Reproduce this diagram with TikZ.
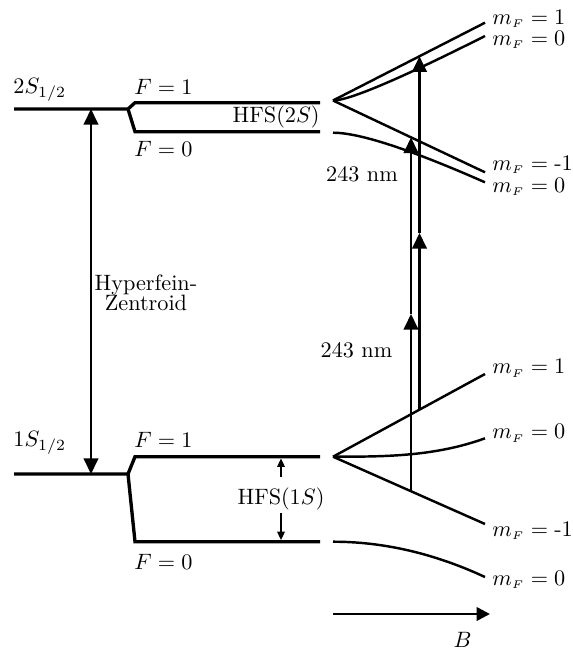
\documentclass[tikz,border=0pt]{standalone}
\usetikzlibrary{arrows.meta}

\tikzset{
  level/.style={line width=1.5pt},
  zeeman/.style={line width=1.1pt},
  photon/.style={line width=1.1pt, -{Triangle[length=7pt,width=6.5pt]}},
  centroid/.style={line width=1.1pt, {Triangle[length=7pt,width=6.5pt]}-{Triangle[length=7pt,width=6.5pt]}},
  hfsarrow/.style={line width=0.5pt, -{Triangle[length=3.8pt,width=3.5pt]}},
  fieldarrow/.style={line width=1.2pt, -{Triangle[length=6pt,width=6pt]}},
  tag/.style={anchor=west, inner sep=0pt},
}
\newcommand{\mFlabel}[1]{$m_{\scriptscriptstyle F} = #1$}

\begin{document}
\begin{tikzpicture}[x=0.45pt, y=-0.45pt]
\useasboundingbox (0,0) rectangle (572,653);

\coordinate (s2) at (128,109);
\coordinate (s1) at (128,474);
\draw[level] (14,109) -- (s2) -- (135,102.7) -- (320,102.7);
\draw[level] (s2) -- (135,131.7) -- (320,131.7);
\draw[level] (14,474) -- (s1) -- (135,456.7) -- (320,456.7);
\draw[level] (s1) -- (135,541.7) -- (320,541.7);

\node[tag] (lab2S) at (13,90) {$2S_{1/2}$};
\node[tag] (lab1S) at (13,443) {$1S_{1/2}$};
\node[tag] (f2S1) at (134,87) {$F = 1$};
\node[tag] (f2S0) at (134,149) {$F = 0$};
\node[tag] (f1S1) at (134,440) {$F = 1$};
\node[tag] (f1S0) at (134,561.5) {$F = 0$};
\node[anchor=east, inner sep=0pt] (hfs2S) at (320,117) {HFS$(2S)$};

\coordinate (c2) at (91,109);
\coordinate (c1) at (91,474);
\draw[centroid] (c1) -- (c2);
\node[anchor=west, align=center, inner sep=1pt] (zentroid) at (92,293) {Hyperfein-\\[-3pt]Zentroid};

\node (hfs1S) at (281,499) {HFS$(1S)$};
\coordinate (ha) at (281,477);
\coordinate (hb) at (281,458.5);
\coordinate (hc) at (281,513);
\coordinate (hd) at (281,540);
\draw[hfsarrow] (ha) -- (hb);
\draw[hfsarrow] (hc) -- (hd);

\coordinate (v2) at (333,100.5);
\coordinate (u2) at (333,132.7);
\coordinate (p2) at (485,22.7);
\coordinate (z2) at (485,36);
\coordinate (n2) at (485,172.3);
\coordinate (w2) at (485,182.3);
\draw[zeeman] (v2) -- (p2);
\draw[zeeman] (v2) .. controls +(16,0) and +(-85.3,43) .. (z2);
\draw[zeeman] (v2) -- (n2);
\draw[zeeman] (u2) .. controls +(26.2,0) and +(-75.1,-33.1) .. (w2);

\coordinate (v1) at (333,456.7);
\coordinate (u1) at (333,541.7);
\coordinate (p1) at (485,374);
\coordinate (z1) at (485,438.3);
\coordinate (n1) at (485,524);
\coordinate (w1) at (485,577);
\draw[zeeman] (v1) -- (p1);
\draw[zeeman] (v1) .. controls +(50.7,0) and +(-50.7,18.4) .. (z1);
\draw[zeeman] (v1) -- (n1);
\draw[zeeman] (u1) .. controls +(50.7,0) and +(-50.7,-23.5) .. (w1);

\node[tag] (m2p) at (492,19) {\mFlabel{1}};
\node[tag] (m2z) at (492,40) {\mFlabel{0}};
\node[tag] (m2n) at (492,165) {\mFlabel{\mbox{-}1}};
\node[tag] (m2w) at (492,187) {\mFlabel{0}};
\node[tag] (m1p) at (492,368.5) {\mFlabel{1}};
\node[tag] (m1z) at (492,433.5) {\mFlabel{0}};
\node[tag] (m1n) at (492,531) {\mFlabel{\mbox{-}1}};
\node[tag] (m1w) at (492,580) {\mFlabel{0}};

\coordinate (a0) at (411,491);
\coordinate (a1) at (411,314);
\coordinate (a2) at (411,137.5);
\draw[photon] (a0) -- (a1);
\draw[photon] (a1) -- (a2);
\coordinate (b0) at (419.5,409.6);
\coordinate (b1) at (419.5,233);
\coordinate (b2) at (419.5,56.3);
\draw[photon] (b0) -- (b1);
\draw[photon] (b1) -- (b2);
\node (nmup) at (362,174) {243 nm};
\node (nmlow) at (356.5,350) {243 nm};

\coordinate (bs) at (333,614);
\coordinate (be) at (490,614);
\draw[fieldarrow] (bs) -- (be);
\node (blab) at (462.5,639.5) {$B$};
\end{tikzpicture}
\end{document}
